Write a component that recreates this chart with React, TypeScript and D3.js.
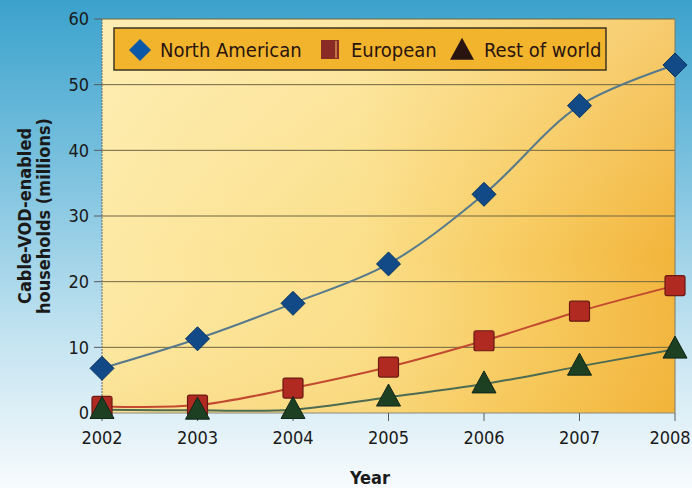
import React from "react";
import * as d3 from "d3";

const years = [2002, 2003, 2004, 2005, 2006, 2007, 2008];
const northAmerican = [6.8, 11.3, 16.7, 22.7, 33.3, 46.8, 53.0];
const european = [1.0, 1.2, 3.8, 7.0, 11.0, 15.5, 19.4];
const restOfWorld = [0.5, 0.4, 0.5, 2.4, 4.4, 7.1, 9.7];
const yTicks = [0, 10, 20, 30, 40, 50, 60];
const seriesNames = ["North American", "European", "Rest of world"];

const W = 692;
const H = 488;
const left = 102;
const right = 675;
const top = 19;
const bottom = 413;

const FONT = "'DejaVu Sans', sans-serif";
const textStyle = { fontStretch: "condensed" as const };

export default function App() {
  const x = d3.scaleLinear().domain([2002, 2008]).range([left, right]);
  const y = d3.scaleLinear().domain([0, 60]).range([bottom, top]);
  const line = d3
    .line<number>()
    .x((_, i) => x(years[i]))
    .y((d) => y(d))
    .curve(d3.curveCatmullRom.alpha(0.5));

  const diamond = (cx: number, cy: number, r: number) =>
    `M${cx},${cy - r}L${cx + r},${cy}L${cx},${cy + r}L${cx - r},${cy}Z`;
  const triangle = (cx: number, cy: number, w: number, h: number) =>
    `M${cx},${cy - h * 0.6}L${cx + w / 2},${cy + h * 0.4}L${cx - w / 2},${cy + h * 0.4}Z`;

  return (
    <svg
      width={W}
      height={H}
      style={{ position: "absolute", left: 0, top: 0, display: "block" }}
    >
      <defs>
        <linearGradient id="bg" x1="0" y1="0" x2="0" y2="1">
          <stop offset="0" stopColor="#3ba2cc" />
          <stop offset="0.35" stopColor="#7cc2df" />
          <stop offset="0.7" stopColor="#c5e4f1" />
          <stop offset="1" stopColor="#f7fbfd" />
        </linearGradient>
        <linearGradient id="plotbg" x1="0" y1="0" x2="1" y2="0">
          <stop offset="0" stopColor="#fde9a4" />
          <stop offset="0.45" stopColor="#fbdf8a" />
          <stop offset="0.75" stopColor="#f7c95c" />
          <stop offset="1" stopColor="#f2b43a" />
        </linearGradient>
        <linearGradient id="plotshade" x1="0" y1="0" x2="0" y2="1">
          <stop offset="0" stopColor="#fff6d0" stopOpacity="0.35" />
          <stop offset="0.6" stopColor="#fff6d0" stopOpacity="0" />
          <stop offset="1" stopColor="#f0b030" stopOpacity="0.15" />
        </linearGradient>
      </defs>
      <rect x={0} y={0} width={W} height={H} fill="url(#bg)" />
      <rect x={left} y={top} width={right - left} height={bottom - top} fill="url(#plotbg)" />
      <rect x={left} y={top} width={right - left} height={bottom - top} fill="url(#plotshade)" />

      {/* grid lines */}
      {yTicks.map((t) => (
        <g key={t}>
          {t > 0 && (
            <line x1={left} x2={right} y1={y(t)} y2={y(t)} stroke="#6e6442" strokeWidth={1} />
          )}
          <line x1={left - 8} x2={left} y1={y(t)} y2={y(t)} stroke="#5a5a5a" strokeWidth={1} />
          <text
            x={left - 13}
            y={y(t)}
            dy="0.35em"
            textAnchor="end"
            fontFamily={FONT}
            fontSize={18}
            fill="#1a1a1a"
            style={textStyle}
          >
            {t}
          </text>
        </g>
      ))}
      <line x1={left} x2={left} y1={top} y2={bottom} stroke="#6a6a6a" strokeWidth={1} strokeDasharray="2,1" />
      <line x1={right} x2={right} y1={top} y2={bottom} stroke="#7a7a6a" strokeWidth={1} />
      <line x1={left} x2={right} y1={bottom} y2={bottom} stroke="#8a8a7a" strokeWidth={1} />

      {years.map((yr) => (
        <g key={yr}>
          <line x1={x(yr)} x2={x(yr)} y1={bottom} y2={bottom + 8} stroke="#5a5a5a" strokeWidth={1} />
          <text
            x={Math.min(x(yr), 670)}
            y={444}
            textAnchor="middle"
            fontFamily={FONT}
            fontSize={18}
            fill="#1a1a1a"
            style={textStyle}
          >
            {yr}
          </text>
        </g>
      ))}

      {/* axis titles */}
      <text
        x={370}
        y={484}
        textAnchor="middle"
        fontFamily={FONT}
        fontWeight="bold"
        fontSize={18}
        fill="#1a1a1a"
        style={textStyle}
      >
        Year
      </text>
      <g transform="translate(31,216) rotate(-90)">
        <text textAnchor="middle" fontFamily={FONT} fontWeight="bold" fontSize={18} fill="#1a1a1a" style={textStyle}>
          Cable-VOD-enabled
        </text>
        <text y={19} textAnchor="middle" fontFamily={FONT} fontWeight="bold" fontSize={18} fill="#1a1a1a" style={textStyle}>
          households (millions)
        </text>
      </g>

      {/* lines */}
      <path d={line(restOfWorld) || ""} fill="none" stroke="#4d6b52" strokeWidth={2} />
      <path d={line(european) || ""} fill="none" stroke="#c24a30" strokeWidth={2} />
      <path d={line(northAmerican) || ""} fill="none" stroke="#567a8c" strokeWidth={2} />

      {/* markers */}
      {european.map((v, i) => (
        <rect
          key={"e" + i}
          x={x(years[i]) - 10}
          y={y(v) - 10}
          width={20}
          height={20}
          rx={2}
          fill="#b02a22"
          stroke="#6a1a12"
          strokeWidth={1.2}
        />
      ))}
      {restOfWorld.map((v, i) => (
        <path
          key={"r" + i}
          d={triangle(x(years[i]), y(v), 24, 22)}
          fill="#1d3f22"
          stroke="#10261a"
          strokeWidth={1}
        />
      ))}
      {northAmerican.map((v, i) => (
        <path
          key={"n" + i}
          d={diamond(x(years[i]), y(v), 12)}
          fill="#114a86"
          stroke="#0b3462"
          strokeWidth={1}
        />
      ))}

      {/* legend */}
      <rect x={114} y={28} width={492} height={42} fill="#f1b42c" stroke="#3e3420" strokeWidth={1.5} />
      <path d={diamond(140, 50, 11)} fill="#0c58a6" />
      <text x={160} y={50} dy="0.35em" fontFamily={FONT} fontSize={20} fill="#2a1410" style={textStyle}>
        {seriesNames[0]}
      </text>
      <rect x={321} y={40} width={18} height={19} fill="#8a2a24" />
      <line x1={336} x2={336} y1={41} y2={58} stroke="#f4c060" strokeWidth={1} />
      <text x={351} y={50} dy="0.35em" fontFamily={FONT} fontSize={20} fill="#2a1410" style={textStyle}>
        {seriesNames[1]}
      </text>
      <path d={triangle(462, 51, 24, 22)} fill="#2a1410" />
      <text x={484} y={50} dy="0.35em" fontFamily={FONT} fontSize={20} fill="#2a1410" style={textStyle}>
        {seriesNames[2]}
      </text>
    </svg>
  );
}
